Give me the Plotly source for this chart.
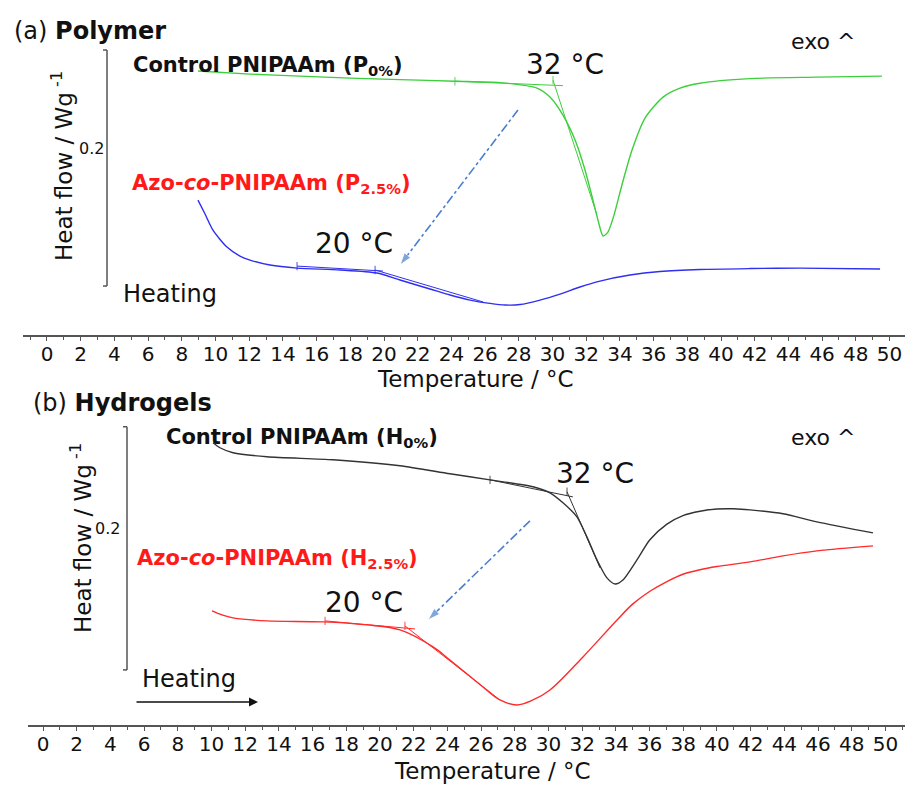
import plotly.graph_objects as go

FONT = "DejaVu Sans"

# ---------------- Panel (a) Polymer ----------------
temp_p0 = [8.96, 12.05, 15.01, 17.98, 20.95, 24.21, 26.88, 29.08, 29.85, 30.62, 31.34, 31.93,
           32.40, 32.70, 33.00, 33.29, 33.65, 34.12, 34.72, 35.49, 36.56, 37.57, 38.75, 41.72,
           45.70, 49.55]
heat_p0 = [0.2237, 0.2211, 0.2194, 0.2177, 0.2164, 0.2151, 0.2139, 0.2092, 0.2016, 0.1863, 0.1652,
           0.1398, 0.1143, 0.0974, 0.0839, 0.0872, 0.1016, 0.1271, 0.1567, 0.1838, 0.2016, 0.2092,
           0.2134, 0.2173, 0.2185, 0.2194]

temp_p25 = [8.96, 9.38, 9.85, 10.68, 11.45, 12.05, 13.23, 14.84, 17.39, 19.58, 20.95, 22.73,
            23.92, 25.10, 26.29, 27.18, 28.07, 29.26, 30.45, 31.63, 32.82, 34.60, 36.38, 38.75,
            41.72, 44.69, 49.44]
heat_p25 = [0.1143, 0.1025, 0.0889, 0.0745, 0.0669, 0.0635, 0.0593, 0.0567, 0.0551, 0.0525, 0.0466,
            0.0390, 0.0339, 0.0296, 0.0268, 0.0254, 0.0258, 0.0296, 0.0347, 0.0407, 0.0457, 0.0508,
            0.0538, 0.0555, 0.0563, 0.0567, 0.0559]

# onset tangent constructions (start/end points)
tan_p0_base_t = [24.21, 30.62]
tan_p0_base_h = [0.2151, 0.2113]
tan_p0_steep_t = [30.03, 32.64]
tan_p0_steep_h = [0.2160, 0.1016]
tan_p25_base_t = [14.84, 19.94]
tan_p25_base_h = [0.0584, 0.0542]
tan_p25_steep_t = [19.47, 25.88]
tan_p25_steep_h = [0.0551, 0.0280]

shift_a_t = [27.95, 20.95]
shift_a_h = [0.1906, 0.0593]

# ---------------- Panel (b) Hydrogels ----------------
temp_h0 = [10.09, 10.50, 11.28, 13.29, 17.21, 21.19, 24.15, 26.53, 29.08, 30.09, 30.86, 31.69,
           32.28, 32.88, 33.47, 33.95, 34.42, 35.25, 36.02, 37.03, 37.98, 39.00, 40.00, 41.00,
           41.96, 43.92, 45.93, 49.26]
heat_h0 = [0.2321, 0.2280, 0.2239, 0.2206, 0.2181, 0.2132, 0.2066, 0.2016, 0.1959, 0.1909, 0.1827,
           0.1712, 0.1547, 0.1358, 0.1210, 0.1160, 0.1193, 0.1358, 0.1523, 0.1652, 0.1722, 0.1758,
           0.1776, 0.1778, 0.1769, 0.1737, 0.1671, 0.1580]

temp_h25 = [10.03, 10.62, 11.28, 13.29, 16.62, 19.23, 21.19, 23.15, 24.15, 26.11, 27.12, 28.13,
            29.08, 30.09, 32.05, 34.07, 35.01, 36.02, 37.03, 37.98, 38.99, 40.00, 41.96, 43.92,
            45.93, 49.26]
heat_h25 = [0.0938, 0.0905, 0.0881, 0.0856, 0.0848, 0.0823, 0.0782, 0.0642, 0.0535, 0.0313, 0.0206,
            0.0165, 0.0206, 0.0288, 0.0560, 0.0864, 0.0996, 0.1100, 0.1180, 0.1240, 0.1277, 0.1303,
            0.1341, 0.1391, 0.1432, 0.1473]

tan_h0_base_t = [26.53, 31.45]
tan_h0_base_h = [0.2016, 0.1876]
tan_h0_steep_t = [31.10, 33.06]
tan_h0_steep_h = [0.1918, 0.1292]
tan_h25_base_t = [16.74, 22.08]
tan_h25_base_h = [0.0856, 0.0790]
tan_h25_steep_t = [21.48, 27.12]
tan_h25_steep_h = [0.0815, 0.0206]

shift_b_t = [28.90, 22.85]
shift_b_h = [0.1679, 0.0864]

x_ticks = list(range(0, 51, 2))
SCALE = 0.2  # W/g represented by the vertical scale bar

W, H = 905, 788
def px(x):
    return x / W
def py(y):
    return 1 - y / H

GREEN = "#3ccf3c"
BLUE = "#2f2ff0"
BLACK = "#333333"
RED = "#ff2a2a"
ARROW = "#4a7fd0"

fig = go.Figure()

def curve(t, h, color, xa, ya, width=1.4, smooth=0.7):
    fig.add_trace(go.Scatter(x=t, y=h, mode="lines", line=dict(color=color, width=width, shape="spline", smoothing=smooth),
                             xaxis=xa, yaxis=ya, showlegend=False, hoverinfo="skip"))

def tangent(t, h, color, xa, ya):
    fig.add_trace(go.Scatter(x=t, y=h, mode="lines+markers", line=dict(color=color, width=1),
                             marker=dict(symbol="line-ns", size=[6, 0], line=dict(color=color, width=1.2)),
                             xaxis=xa, yaxis=ya, showlegend=False, hoverinfo="skip"))

def shift_arrow(t, h, xa, ya):
    fig.add_trace(go.Scatter(x=t, y=h, mode="lines+markers",
                             line=dict(color=ARROW, width=1.6, dash="dashdot"),
                             marker=dict(symbol="arrow", size=[0, 13], angleref="previous", color=ARROW),
                             xaxis=xa, yaxis=ya, showlegend=False, hoverinfo="skip"))

curve(temp_p0, heat_p0, GREEN, "x", "y")
tangent(tan_p0_base_t, tan_p0_base_h, GREEN, "x", "y")
tangent(tan_p0_steep_t, tan_p0_steep_h, GREEN, "x", "y")
curve(temp_p25, heat_p25, BLUE, "x", "y")
tangent(tan_p25_base_t, tan_p25_base_h, BLUE, "x", "y")
tangent(tan_p25_steep_t, tan_p25_steep_h, BLUE, "x", "y")
shift_arrow(shift_a_t, shift_a_h, "x", "y")

curve(temp_h0, heat_h0, BLACK, "x2", "y2")
tangent(tan_h0_base_t, tan_h0_base_h, BLACK, "x2", "y2")
tangent(tan_h0_steep_t, tan_h0_steep_h, BLACK, "x2", "y2")
curve(temp_h25, heat_h25, RED, "x2", "y2", smooth=1.0)
tangent(tan_h25_base_t, tan_h25_base_h, RED, "x2", "y2")
tangent(tan_h25_steep_t, tan_h25_steep_h, RED, "x2", "y2")
shift_arrow(shift_b_t, shift_b_h, "x2", "y2")

xaxis_common = dict(
    showline=True, linecolor="#555555", linewidth=1.5,
    ticks="outside", ticklen=4, tickwidth=1, tickcolor="#555555",
    tickvals=x_ticks, tickfont=dict(family=FONT, size=20, color="#111111"),
    ticklabelstandoff=-4,
    minor=dict(dtick=1, ticks="outside", ticklen=3, tickcolor="#555555"),
    showgrid=False, zeroline=False, fixedrange=True,
)
fig.update_layout(
    width=W, height=H, margin=dict(l=0, r=0, t=0, b=0),
    paper_bgcolor="white", plot_bgcolor="white",
    font=dict(family=FONT, color="#111111"),
    xaxis=dict(domain=[px(23), 1], range=[-1.424, 50.92], anchor="y", **xaxis_common),
    yaxis=dict(domain=[py(335), py(40)], range=[0, 0.25], visible=False, fixedrange=True),
    xaxis2=dict(domain=[px(28), 1], range=[-0.89, 51.16], anchor="y2", **xaxis_common),
    yaxis2=dict(domain=[py(725), py(421)], range=[0, 0.25], visible=False, fixedrange=True),
)

# scale bars (0.2 W/g)
def scale_bar(xp, y0, yref):
    c = "#555555"
    fig.add_shape(type="line", xref="paper", yref=yref, x0=px(xp), x1=px(xp), y0=y0, y1=y0 + SCALE,
                  line=dict(color=c, width=1.5))
    for yy in (y0, y0 + SCALE):
        fig.add_shape(type="line", xref="paper", yref=yref, x0=px(xp - 4), x1=px(xp), y0=yy, y1=yy,
                      line=dict(color=c, width=1.5))

scale_bar(107, 0.0415, "y")
scale_bar(127, 0.0453, "y2")

def text(x, y, s, size, color="#111111", xanchor="left", angle=0):
    fig.add_annotation(xref="paper", yref="paper", x=px(x), y=py(y), text=s, showarrow=False,
                       xanchor=xanchor, yanchor="middle", textangle=angle,
                       font=dict(family=FONT, size=size, color=color))

# panel a texts
text(12, 31, "(a) <b>Polymer</b>", 24)
text(131, 66, "<b>Control PNIPAAm (P<sub>0%</sub>)</b>", 21)
text(524, 64, "32 °C", 28)
text(789, 42, "exo ^", 22)
text(91, 148, "0.2", 16, xanchor="center")
text(62, 166, "Heat flow / Wg<sup> -1</sup>", 23, xanchor="center", angle=-90)
text(130, 184, "<b>Azo-<i>co</i>-PNIPAAm (P<sub>2.5%</sub>)</b>", 21, color="#ff1a1a")
text(313, 243, "20 °C", 28)
text(121, 294, "Heating", 24)
text(475, 379, "Temperature / °C", 23, xanchor="center")

# panel b texts
text(31, 403, "(b) <b>Hydrogels</b>", 24)
text(164, 438, "<b>Control PNIPAAm (H<sub>0%</sub>)</b>", 21)
text(554, 473, "32 °C", 28)
text(789, 438, "exo ^", 22)
text(107, 528, "0.2", 16, xanchor="center")
text(81, 538, "Heat flow / Wg<sup> -1</sup>", 23, xanchor="center", angle=-90)
text(135, 559, "<b>Azo-<i>co</i>-PNIPAAm (H<sub>2.5%</sub>)</b>", 21, color="#ff1a1a")
text(323, 602, "20 °C", 28)
text(140, 679, "Heating", 24)
text(492, 771, "Temperature / °C", 23, xanchor="center")

# heating direction arrow (panel b)
fig.add_annotation(xref="paper", yref="paper", x=px(258), y=py(702), ax=-123, ay=0,
                   text="", showarrow=True, arrowhead=2, arrowsize=1.2, arrowwidth=1.5,
                   arrowcolor="#111111")

fig.write_html("out.html", config={"displayModeBar": False},
               post_script="document.body.style.margin='0';document.body.style.overflow='hidden';")
